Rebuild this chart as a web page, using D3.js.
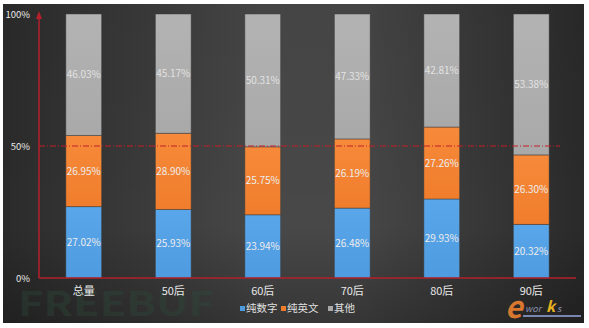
<!DOCTYPE html>
<html>
<head>
<meta charset="utf-8">
<script src="https://cdn.jsdelivr.net/npm/d3@7"></script>
<style>
  html, body { margin: 0; padding: 0; background: #ffffff; }
  svg { display: block; }
  text { font-family: "Noto Sans CJK SC", "Noto Sans", sans-serif; }
</style>
</head>
<body>
<svg id="chart" width="589" height="328"></svg>
<script>
// Password composition by age group (share of each type, %)
const categories = ["总量", "50后", "60后", "70后", "80后", "90后"];
const seriesNames = ["纯数字", "纯英文", "其他"];
const digitsOnly = [27.02, 25.93, 23.94, 26.48, 29.93, 20.32];
const lettersOnly = [26.95, 28.90, 25.75, 26.19, 27.26, 26.30];
const others = [46.03, 45.17, 50.31, 47.33, 42.81, 53.38];
const yTicks = [0, 50, 100];

const seriesValues = [digitsOnly, lettersOnly, others];
const colors = ["#4f9be0", "#f07d2c", "#a9a9a9"];
const colorsTop = ["#5aa6ea", "#f68a3a", "#b3b3b3"];

const svg = d3.select("#chart");

const defs = svg.append("defs");
const bg = defs.append("linearGradient").attr("id", "bg").attr("x1", 0).attr("x2", 1).attr("y1", 0).attr("y2", 0);
bg.append("stop").attr("offset", "0%").attr("stop-color", "#2b2b2b");
bg.append("stop").attr("offset", "45%").attr("stop-color", "#484848");
bg.append("stop").attr("offset", "60%").attr("stop-color", "#484848");
bg.append("stop").attr("offset", "100%").attr("stop-color", "#2a2a2a");
const vshade = defs.append("linearGradient").attr("id", "vshade").attr("x1", 0).attr("x2", 0).attr("y1", 0).attr("y2", 1);
vshade.append("stop").attr("offset", "0%").attr("stop-color", "#000").attr("stop-opacity", 0.05);
vshade.append("stop").attr("offset", "70%").attr("stop-color", "#000").attr("stop-opacity", 0);
vshade.append("stop").attr("offset", "100%").attr("stop-color", "#000").attr("stop-opacity", 0.25);

seriesNames.forEach((s, i) => {
  const g = defs.append("linearGradient").attr("id", "seg" + i).attr("x1", 0).attr("x2", 0).attr("y1", 0).attr("y2", 1);
  g.append("stop").attr("offset", "0%").attr("stop-color", colorsTop[i]);
  g.append("stop").attr("offset", "100%").attr("stop-color", colors[i]);
});

// dark panel
svg.append("rect").attr("x", 3).attr("y", 4).attr("width", 581).attr("height", 319).attr("fill", "url(#bg)");
svg.append("rect").attr("x", 3).attr("y", 4).attr("width", 581).attr("height", 319).attr("fill", "url(#vshade)");

// watermark
svg.append("text").attr("x", 18).attr("y", 316)
  .attr("font-family", "'DejaVu Sans', sans-serif").attr("font-weight", "bold")
  .attr("font-size", 34).attr("fill", "#2f4a3d").attr("fill-opacity", 0.4)
  .attr("textLength", 196).attr("lengthAdjust", "spacingAndGlyphs")
  .text("FREEBUF");

const x = d3.scaleBand().domain(categories).range([39, 576]).paddingInner(0.6).paddingOuter(0.3);
const y = d3.scaleLinear().domain([0, 100]).range([278, 14]);

// stacked data
const table = categories.map((c, j) => {
  const row = { cat: c };
  seriesNames.forEach((s, i) => row[s] = seriesValues[i][j]);
  return row;
});
const stack = d3.stack().keys(seriesNames)(table);

const layer = svg.append("g").selectAll("g").data(stack).join("g");
layer.selectAll("rect").data((d, i) => d.map(p => ({ p, i })))
  .join("rect")
  .attr("x", d => x(d.p.data.cat))
  .attr("width", x.bandwidth())
  .attr("y", d => y(d.p[1]))
  .attr("height", d => y(d.p[0]) - y(d.p[1]))
  .attr("fill", d => `url(#seg${d.i})`)
  .attr("stroke", "#3a3a3a").attr("stroke-opacity", 0.6).attr("stroke-width", 0.8);

layer.selectAll("text").data((d, i) => d.map(p => ({ p, i, key: d.key })))
  .join("text")
  .attr("x", d => x(d.p.data.cat) + x.bandwidth() / 2)
  .attr("y", d => (y(d.p[0]) + y(d.p[1])) / 2 + 3.5)
  .attr("text-anchor", "middle")
  .attr("font-size", 10)
  .attr("fill", d => d.i === 2 ? "#e2e2e2" : "#ececec")
  .text(d => d.p.data[d.key].toFixed(2) + "%");

// 50% reference line
svg.append("line")
  .attr("x1", 39).attr("x2", 560)
  .attr("y1", y(50)).attr("y2", y(50))
  .attr("stroke", "#c0202a").attr("stroke-width", 1)
  .attr("stroke-dasharray", "6,2,1,2");

// axes in red
svg.append("line").attr("x1", 39).attr("x2", 576).attr("y1", y(0)).attr("y2", y(0))
  .attr("stroke", "#b5202a").attr("stroke-width", 1.5);
svg.append("line").attr("x1", 39).attr("x2", 39).attr("y1", y(0)).attr("y2", 16)
  .attr("stroke", "#b5202a").attr("stroke-width", 1.5);
svg.append("path")
  .attr("d", "M39,11 L36,19 L42,19 Z")
  .attr("fill", "#b5202a");

// y tick labels
svg.append("g").selectAll("text").data(yTicks).join("text")
  .attr("x", 30).attr("y", d => y(d) + 3.5)
  .attr("text-anchor", "end").attr("font-size", 9.5).attr("fill", "#e8e8e8")
  .text(d => d + "%");

// category labels
svg.append("g").selectAll("text").data(categories).join("text")
  .attr("x", d => x(d) + x.bandwidth() / 2).attr("y", 295)
  .attr("text-anchor", "middle").attr("font-size", 11).attr("fill", "#e8e8e8")
  .text(d => d);

// legend
const legendX = [240, 281, 328];
const lg = svg.append("g").selectAll("g").data(seriesNames).join("g")
  .attr("transform", (d, i) => `translate(${legendX[i]},312)`);
lg.append("rect").attr("x", 0).attr("y", -6).attr("width", 5).attr("height", 5)
  .attr("fill", (d, i) => colors[i]);
lg.append("text").attr("x", 6).attr("y", 0).attr("font-size", 10.5).attr("fill", "#e0e0e0")
  .text(d => d);

// e-works mark
const logo = svg.append("g").attr("transform", "translate(505,318)");
logo.append("text").attr("x", 0).attr("y", 0).attr("font-size", 30).attr("font-style", "italic")
  .attr("font-weight", "bold").attr("fill", "#d8772e").attr("font-family", "'DejaVu Serif', serif").text("e");
logo.append("text").attr("x", 20).attr("y", -6).attr("font-size", 9).attr("font-style", "italic")
  .attr("fill", "#8a93b0").attr("font-family", "'DejaVu Sans', sans-serif").text("wor");
logo.append("text").attr("x", 41).attr("y", -6).attr("font-size", 15).attr("font-style", "italic")
  .attr("font-weight", "bold").attr("fill", "#e8b320").attr("font-family", "'DejaVu Sans', sans-serif").text("k");
logo.append("text").attr("x", 52).attr("y", -6).attr("font-size", 9).attr("font-style", "italic")
  .attr("fill", "#8a93b0").attr("font-family", "'DejaVu Sans', sans-serif").text("s");
logo.append("rect").attr("x", 18).attr("y", -3).attr("width", 58).attr("height", 2).attr("fill", "#7a86b0");
</script>
</body>
</html>
